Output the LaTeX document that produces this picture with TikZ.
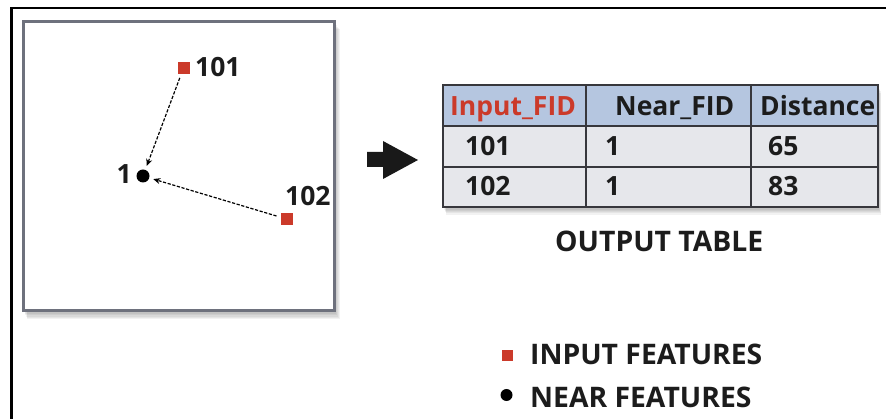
\documentclass[tikz,border=0pt]{standalone}
\usepackage{fontspec}
\setmainfont{Open Sans}
\usetikzlibrary{arrows.meta}
\definecolor{featred}{RGB}{203,58,42}
\definecolor{hdrblue}{RGB}{181,198,224}
\definecolor{cellgray}{RGB}{230,231,235}
\definecolor{panelgray}{RGB}{110,113,125}
\definecolor{gridgray}{RGB}{55,55,60}
\definecolor{txtdark}{RGB}{28,28,28}
\begin{document}
\begin{tikzpicture}[x=1pt,y=-1pt,
  lbl/.style={font=\fontsize{26.5}{26.5}\selectfont\bfseries, text=txtdark, inner sep=0pt, anchor=base west},
  biglbl/.style={lbl, font=\fontsize{28.3}{28.3}\selectfont\bfseries},
  feat/.style={rectangle, fill=featred, minimum size=12pt, inner sep=0pt},
  nearpt/.style={circle, fill=black, minimum size=13pt, inner sep=0pt},
  link/.style={-{Stealth[length=7pt,width=6pt]}, line width=1.2pt, dash pattern=on 3.2pt off 1.6pt, shorten <=4pt, shorten >=4pt},
  softshadow/.style={fill=black, opacity=0.05}]
\useasboundingbox (0,0) rectangle (886,419);
\fill[white] (0,0) rectangle (886,419);
% outer frame
\draw[line width=2.8pt, line join=miter] (11.5,419) -- (11.5,8) -- (886,8);
% map panel with shadow
\foreach \i in {1,...,6}
  \fill[softshadow] (23.5+\i*0.6,21.5+\i*1.3) rectangle (334.5+\i*0.9,311+\i*1.4);
\draw[panelgray, line width=3pt, fill=white] (23.5,21.5) rectangle (334.5,311);
% features
\node[feat] (s101) at (183.5,68) {};
\node[lbl] (l101) at (195,77) {101};
\node[nearpt] (n1) at (143,176) {};
\node[lbl, anchor=base east] (l1) at (132,184) {1};
\node[feat] (s102) at (286.5,219) {};
\node[lbl] (l102) at (285,206) {102};
\draw[link] (s101) -- (n1);
\draw[link] (s102) -- (n1);
% big arrow
\fill[black!90] (367,152) -- (383,152) -- (383,141) -- (418,160) -- (383,179) -- (383,167) -- (367,167) -- cycle;
% table
\foreach \i in {1,...,6}
  \fill[softshadow] (443+\i*0.5,85+\i*1.3) rectangle (878+\i*0.5,207+\i*1.3);
\fill[hdrblue] (443,85) rectangle (878,126);
\fill[cellgray] (443,126) rectangle (878,207);
\draw[gridgray, line width=2pt] (443,85) rectangle (878,207);
\draw[gridgray, line width=2pt] (443,126) -- (878,126) (443,167) -- (878,167)
  (586,85) -- (586,207) (751,85) -- (751,207);
\node[lbl, text=featred] (h1) at (450,116) {Input\_FID};
\node[lbl] (h2) at (615,116) {Near\_FID};
\node[lbl] (h3) at (760,116) {Distance};
\node[lbl] (r11) at (465,156) {101};
\node[lbl] (r12) at (605,156) {1};
\node[lbl] (r13) at (768,156) {65};
\node[lbl] (r21) at (465,196) {102};
\node[lbl] (r22) at (605,196) {1};
\node[lbl] (r23) at (768,196) {83};
\node[biglbl] (title) at (555,252) {OUTPUT TABLE};
% legend
\node[feat, minimum size=11pt] (lsq) at (507.5,356) {};
\node[biglbl] (lin) at (530,365) {INPUT FEATURES};
\node[nearpt, minimum size=12pt] (ldot) at (506.5,395) {};
\node[biglbl] (lnr) at (530,407) {NEAR FEATURES};
\end{tikzpicture}
\end{document}
